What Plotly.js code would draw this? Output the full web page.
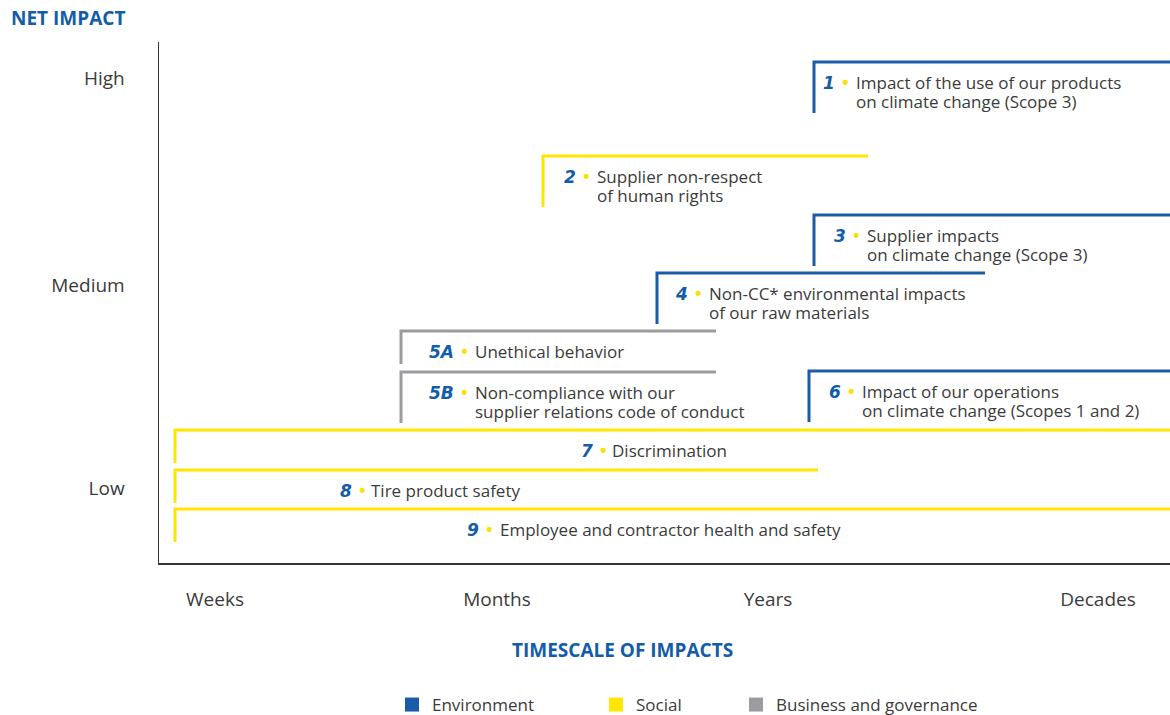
<!DOCTYPE html>
<html><head><meta charset="utf-8">
<script src="https://cdn.plot.ly/plotly-3.0.1.min.js"></script>
<style>html,body{margin:0;padding:0;background:#fff}#chart{width:1170px;height:715px}</style>
</head><body><div id="chart"></div>
<script>
// ---- Data ----
const timescaleTicks = ['Weeks', 'Months', 'Years', 'Decades'];
const timescaleTickPos = [0.56, 3.38, 6.09, 9.39];
const impactTicks = ['High', 'Medium', 'Low'];
const impactTickPos = [4.85, 2.78, 0.75];

const categories = ['Environment', 'Social', 'Business and governance'];

const itemIds = ['1', '2', '3', '4', '5A', '5B', '6', '7', '8', '9'];
const itemCategory = ['Environment', 'Social', 'Environment', 'Environment',
  'Business and governance', 'Business and governance', 'Environment',
  'Social', 'Social', 'Social'];
const itemLine1 = ['Impact of the use of our products', 'Supplier non-respect',
  'Supplier impacts', 'Non-CC* environmental impacts', 'Unethical behavior',
  'Non-compliance with our', 'Impact of our operations', 'Discrimination',
  'Tire product safety', 'Employee and contractor health and safety'];
const itemLine2 = ['on climate change (Scope 3)', 'of human rights',
  'on climate change (Scope 3)', 'of our raw materials', '',
  'supplier relations code of conduct', 'on climate change (Scopes 1 and 2)', '', '', ''];
const impactLevel = [5.01, 4.07, 3.48, 2.90, 2.32, 1.91, 1.92, 1.33, 0.93, 0.54];
const timeStart   = [6.55, 3.84, 6.55, 4.98, 2.42, 2.42, 6.50, 0.16, 0.16, 0.16];
const timeEnd     = [10.2, 7.09, 10.2, 8.26, 5.57, 5.57, 10.2, 10.2, 6.59, 10.2];
const labelStart  = [6.95, 4.36, 7.06, 5.48, 3.14, 3.14, 7.01, 4.51, 2.10, 3.39];

// ---- Styles ----
const catColor = {
  'Environment': '#1a5ca8',
  'Social': '#ffe500',
  'Business and governance': '#9c9ca0'
};
const BLUE = '#135caa';
const TEXT = '#3b3b3b';
const BULLET = '#fadf00';
const FONT = 'Open Sans, Noto Sans, sans-serif';
const ROW = 0.185;         // line pitch of labels (axis units)
const FIRST = 0.205;       // first label line below bracket top

const traces = [];
categories.forEach((cat, ci) => {
  const xs = [], ys = [];
  itemIds.forEach((id, i) => {
    if (itemCategory[i] !== cat) return;
    const drop = itemLine2[i] ? 0.51 : 0.33;
    xs.push(timeStart[i], timeStart[i], timeEnd[i], null);
    ys.push(impactLevel[i] - drop, impactLevel[i], impactLevel[i], null);
  });
  traces.push({
    type: 'scatter', mode: 'lines', x: xs, y: ys,
    line: {color: catColor[cat], width: 3},
    hoverinfo: 'skip', showlegend: false, legendgroup: cat
  });
});
categories.forEach((cat, ci) => {
  traces.push({
    type: 'scatter', mode: 'markers', x: [null], y: [null], name: cat,
    marker: {symbol: 'square', size: 14, color: catColor[cat]},
    legend: ci === 0 ? 'legend' : 'legend' + (ci + 1),
    legendgroup: cat, showlegend: true, hoverinfo: 'skip'
  });
});

const annotations = [];
itemIds.forEach((id, i) => {
  const y1 = impactLevel[i] - FIRST;
  annotations.push({
    x: labelStart[i], y: y1, xref: 'x', yref: 'y', xanchor: 'right', yanchor: 'middle',
    xshift: (id === '7' || id === '8') ? 0 : -2,
    showarrow: false,
    text: '<b><i>' + id + '</i></b> <span style="color:' + BULLET + '">\u2022</span>',
    font: {family: 'DejaVu Sans, sans-serif', size: 17, color: BLUE}
  });
  annotations.push({
    x: labelStart[i], y: y1, xref: 'x', yref: 'y', xanchor: 'left', yanchor: 'middle',
    showarrow: false, text: itemLine1[i],
    font: {family: FONT, size: 17, color: TEXT}
  });
  if (itemLine2[i]) {
    annotations.push({
      x: labelStart[i], y: y1 - ROW, xref: 'x', yref: 'y', xanchor: 'left', yanchor: 'middle',
      showarrow: false, text: itemLine2[i],
      font: {family: FONT, size: 17, color: TEXT}
    });
  }
});
annotations.push({
  x: -0.148, y: 1.046, xref: 'paper', yref: 'paper', xanchor: 'left', yanchor: 'middle',
  showarrow: false, text: '<b>NET IMPACT</b>',
  font: {family: FONT, size: 19, color: BLUE}
});
annotations.push({
  x: 0.458, y: -0.167, xref: 'paper', yref: 'paper', xanchor: 'center', yanchor: 'middle',
  showarrow: false, text: '<b>TIMESCALE OF IMPACTS</b>',
  font: {family: FONT, size: 19, color: BLUE}
});

function legendAt(px) {
  return {
    x: px / 1170, xref: 'container', xanchor: 'left',
    y: 0.014, yref: 'container', yanchor: 'middle',
    orientation: 'h', bgcolor: 'rgba(0,0,0,0)', borderwidth: 0,
    itemsizing: 'trace', itemclick: false, itemdoubleclick: false,
    font: {family: FONT, size: 17, color: TEXT}
  };
}

const layout = {
  width: 1170, height: 715, autosize: false,
  margin: {l: 159, r: 0, t: 42, b: 152, pad: 0},
  paper_bgcolor: '#fff', plot_bgcolor: '#fff',
  showlegend: true,
  legend: legendAt(392), legend2: legendAt(596), legend3: legendAt(736),
  xaxis: {
    range: [0, 10.11], showgrid: false, zeroline: false,
    showline: true, linecolor: '#333', linewidth: 1.5,
    tickvals: timescaleTickPos, ticktext: timescaleTicks,
    ticks: 'outside', ticklen: 19, tickcolor: 'rgba(0,0,0,0)',
    tickfont: {family: FONT, size: 19, color: TEXT}, fixedrange: true
  },
  yaxis: {
    range: [0, 5.21], showgrid: false, zeroline: false,
    showline: true, linecolor: '#333', linewidth: 1.5,
    tickvals: impactTickPos, ticktext: impactTicks,
    ticks: 'outside', ticklen: 29, tickcolor: 'rgba(0,0,0,0)',
    tickfont: {family: FONT, size: 19, color: TEXT}, fixedrange: true
  },
  annotations: annotations
};

Plotly.newPlot('chart', traces, layout, {displayModeBar: false, staticPlot: true});
</script>
</body></html>
